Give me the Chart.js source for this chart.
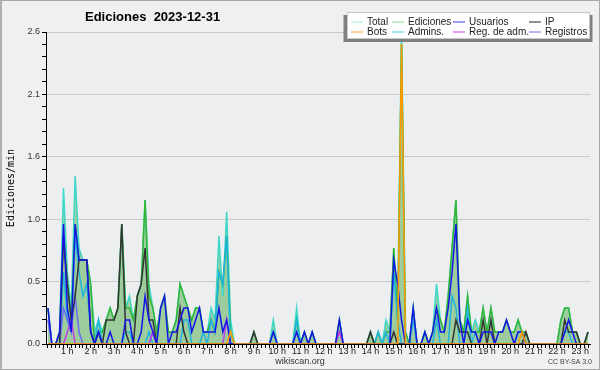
<!DOCTYPE html>
<html><head><meta charset="utf-8">
<script src="https://cdn.jsdelivr.net/npm/chart.js@4.4.0/dist/chart.umd.min.js"></script>
<style>html,body{margin:0;padding:0;background:#f0f0f0;}canvas{display:block;}</style>
</head><body>
<canvas id="c" width="600" height="370"></canvas>
<script>
// 10-minute bins (140 points), values in edits per minute
const hourLabels = ['1 h','2 h','3 h','4 h','5 h','6 h','7 h','8 h','9 h','10 h','11 h','12 h','13 h','14 h','15 h','16 h','17 h','18 h','19 h','20 h','21 h','22 h','23 h'];
const yTickLabels = ['0.0','0.5','1.0','1.6','2.1','2.6'];
const seriesNames = ['Total','Ediciones','Usuarios','IP','Bots','Admins.','Reg. de adm.','Registros'];

const total = [
 0.3,0,0,0.1,1.3,0.6,  0.3,1.4,0.8,0.7,0.7,0.5,  0.1,0.2,0.1,0.2,0.3,0.2,  0.3,1.0,0.3,0.4,0.2,0.4,
 0.5,1.2,0.5,0.3,0.1,0.3,  0.4,0.1,0.1,0.2,0.5,0.4,  0.3,0.2,0.3,0.3,0.1,0.1,  0.3,0.2,0.9,0.4,1.1,0.2,
 0,0,0,0,0,0.1,  0,0,0,0,0.2,0,  0,0,0,0,0.3,0,  0.1,0,0.1,0,0,0,
 0,0,0,0.2,0,0,  0,0,0,0,0,0.1,  0,0.1,0,0.2,0.1,0.8,  0.2,2.6,0.1,0,0.3,0,
 0,0.1,0,0.1,0.5,0.2,  0.1,0.4,0.8,1.2,0.2,0.1,  0.4,0.1,0.2,0.1,0.3,0.1,  0.3,0.1,0.1,0.1,0.2,0.1,
 0.1,0.2,0.1,0.1,0,0,  0,0,0,0,0,0,  0.2,0.3,0.3,0.1,0.1,0,  0,0.1
];
const ediciones = [
 0.3,0,0,0.1,0.9,0.5,  0.2,1.0,0.7,0.7,0.7,0.5,  0,0.1,0.1,0.2,0.3,0.2,  0.3,1.0,0.3,0.3,0.2,0.4,
 0.5,1.2,0.4,0.3,0.1,0.3,  0.4,0.1,0.1,0.2,0.5,0.4,  0.3,0.2,0.3,0.3,0.1,0.1,  0.2,0.1,0.6,0.5,0.9,0.1,
 0,0,0,0,0,0.1,  0,0,0,0,0.1,0,  0,0,0,0,0.2,0,  0.1,0,0.1,0,0,0,
 0,0,0,0.2,0,0,  0,0,0,0,0,0.1,  0,0.1,0,0.1,0.1,0.8,  0.2,2.5,0.1,0,0.3,0,
 0,0.1,0,0.1,0.3,0.2,  0.1,0.4,0.8,1.2,0.2,0.1,  0.4,0.1,0.1,0.1,0.3,0.1,  0.3,0.1,0.1,0.1,0.2,0.1,
 0.1,0.2,0.1,0.1,0,0,  0,0,0,0,0,0,  0.2,0.3,0.3,0.1,0.1,0,  0,0.1
];
const usuarios = [
 0.3,0,0,0.1,1.0,0.3,  0.1,1.0,0.7,0.7,0.7,0.1,  0,0.1,0,0,0.1,0,  0,0,0.2,0.2,0,0,
 0.1,0.4,0.2,0.1,0,0.3,  0.4,0,0.1,0.1,0.2,0.3,  0.3,0.1,0.2,0.3,0.1,0.1,  0.1,0.1,0.3,0.1,0.2,0,
 0,0,0,0,0,0,  0,0,0,0,0.1,0,  0,0,0,0,0.1,0,  0.1,0,0.1,0,0,0,
 0,0,0,0.2,0,0,  0,0,0,0,0,0,  0,0,0,0,0,0.7,  0.5,0.2,0,0,0.3,0,
 0,0.1,0,0.1,0.3,0.1,  0.1,0.3,0.6,1.0,0.2,0,  0.2,0.1,0.1,0,0.1,0.1,  0.1,0,0.1,0.1,0.2,0.1,
 0,0.1,0.1,0,0,0,  0,0,0,0,0,0,  0,0.1,0.2,0.1,0,0,  0,0
];
const ip = [
 0,0,0,0,0.9,0.5,  0.2,0.4,0.7,0.7,0.7,0.1,  0,0.1,0,0.2,0.2,0.2,  0.3,1.0,0.1,0,0,0.4,
 0.5,0.8,0.2,0.2,0,0,  0,0,0,0,0.3,0.1,  0,0,0,0,0,0,  0,0,0,0,0,0,
 0,0,0,0,0,0.1,  0,0,0,0,0,0,  0,0,0,0,0,0,  0,0,0,0,0,0,
 0,0,0,0,0,0,  0,0,0,0,0,0.1,  0,0,0,0,0,0.1,  0,0,0,0,0,0,
 0,0,0,0,0,0,  0,0,0,0.2,0.1,0.1,  0.1,0,0,0,0.2,0,  0.2,0,0,0,0,0,
 0,0,0,0.1,0,0,  0,0,0,0,0,0,  0,0.2,0.1,0.1,0.1,0,  0,0.1
];
const bots = [
 0,0,0,0,0,0,  0,0,0,0,0,0,  0,0,0,0,0,0,  0,0,0,0,0,0,
 0,0,0,0,0,0,  0,0,0,0,0,0,  0,0,0,0,0,0,  0,0,0,0,0,0.1,
 0,0,0,0,0,0,  0,0,0,0,0,0,  0,0,0,0,0,0,  0,0,0,0,0,0,
 0,0,0,0,0,0,  0,0,0,0,0,0,  0,0,0,0,0,0,  0,2.5,0,0,0,0,
 0,0,0,0,0,0,  0,0,0,0,0,0,  0,0,0,0,0,0,  0,0,0,0,0,0,
 0,0,0.1,0,0,0,  0,0,0,0,0,0,  0,0,0,0,0,0,  0,0
];
const admins = [
 0,0,0,0,0.6,0.2,  0.1,0.9,0.6,0.4,0.5,0.1,  0,0.2,0,0,0,0,  0,0,0.1,0.1,0,0,
 0,0,0.1,0,0,0,  0,0,0,0,0,0.2,  0.2,0,0,0,0.1,0,  0.2,0.1,0.6,0.5,0.9,0,
 0,0,0,0,0,0,  0,0,0,0,0.1,0,  0,0,0,0,0.2,0,  0,0,0,0,0,0,
 0,0,0,0,0,0,  0,0,0,0,0,0,  0,0.1,0,0.1,0,0.6,  0.2,0,0,0,0.2,0,
 0,0,0,0,0.2,0,  0,0,0.4,0.3,0,0,  0.3,0,0.1,0,0,0,  0,0,0,0,0,0,
 0,0.1,0.1,0,0,0,  0,0,0,0,0,0,  0,0.1,0.1,0,0,0,  0,0
];
const regAdm = [
 0,0,0,0,0,0.1,  0.2,0,0,0,0,0,  0,0,0,0,0,0,  0,0,0,0,0,0,
 0,0,0,0.1,0,0,  0,0,0,0,0,0,  0,0,0,0,0,0,  0,0,0,0,0.2,0,
 0,0,0,0,0,0,  0,0,0,0,0,0,  0,0,0,0,0,0,  0,0,0,0,0,0,
 0,0,0,0.1,0,0,  0,0,0,0,0,0,  0,0,0,0,0,0,  0,0,0,0,0,0,
 0,0,0,0,0,0,  0,0,0,0,0,0,  0,0,0,0,0,0,  0,0,0,0,0,0,
 0,0,0,0,0,0,  0,0,0,0,0,0,  0,0,0,0,0,0,  0,0
];
const registros = [
 0.2,0,0,0,0.3,0.2,  0.1,0.4,0.1,0,0,0,  0,0,0,0,0,0,  0,0,0,0,0,0,
 0,0,0,0.1,0,0,  0,0,0,0,0,0,  0,0,0,0,0,0,  0,0,0,0,0,0,
 0,0,0,0,0,0,  0,0,0,0,0,0,  0,0,0,0,0,0,  0,0,0,0,0,0,
 0,0,0,0,0,0,  0,0,0,0,0,0,  0,0,0,0,0,0,  0,0,0,0,0,0,
 0,0,0,0,0,0,  0,0,0,0,0,0,  0,0,0,0,0,0,  0,0,0,0,0,0,
 0,0,0,0,0,0,  0,0,0,0,0,0,  0,0,0,0,0,0,  0,0
];

const lineColors = ['#3ed8c8','#33b533','#1414e6','#333333','#ff9a00','#1eb4e0','#c43ce6','#6a6af5'];
const legendColors = ['#a8e6e0','#8fd68f','#3c3ce6','#222222','#f5a040','#46c8e6','#cc44dd','#7070ee'];
const allSeries = [total, ediciones, usuarios, ip, bots, admins, regAdm, registros];
const drawOrder = [8, 7, 2, 3, 1, 6, 4, 5];

const FONT = 'Liberation Sans';
Chart.defaults.font.family = FONT;

const datasets = allSeries.map((s, k) => ({
  label: seriesNames[k],
  data: s.map((v, i) => ({x: i, y: v})),
  borderColor: lineColors[k],
  backgroundColor: k === 0 ? '#9dcc9d' : lineColors[k],
  fill: k === 0 ? 'origin' : false,
  borderWidth: 1.5,
  pointRadius: 0,
  tension: 0,
  order: drawOrder[k]
}));

const decor = {
  id: 'decor',
  beforeDraw(chart) {
    const c = chart.ctx, a = chart.chartArea;
    c.save();
    c.fillStyle = '#f0f0f0';
    c.fillRect(0, 0, 600, 370);
    c.fillStyle = '#eceef0';
    c.fillRect(a.left, a.top, a.right - a.left, a.bottom - a.top);
    c.strokeStyle = '#a8a8a8';
    c.lineWidth = 1;
    c.strokeRect(0.5, 0.5, 599, 369);
    c.fillStyle = '#b0b0b0';
    c.fillRect(0, 0, 2, 370);
    c.restore();
  },
  afterDraw(chart) {
    const c = chart.ctx;
    c.save();
    // title
    c.fillStyle = '#000';
    c.font = 'bold 13px ' + FONT;
    c.textBaseline = 'middle';
    c.textAlign = 'left';
    c.fillText('Ediciones  2023-12-31', 85, 17);
    // y title
    c.save();
    c.translate(11, 188);
    c.rotate(-Math.PI / 2);
    c.font = '10px "DejaVu Sans Mono"';
    c.textAlign = 'center';
    c.fillText('Ediciones/min', 0, 0);
    c.restore();
    // legend
    c.fillStyle = '#808080';
    c.fillRect(343.5, 15, 249, 27);
    c.fillStyle = '#ffffff';
    c.fillRect(347, 12, 243, 27);
    c.strokeStyle = '#c8c8c8';
    c.strokeRect(347.5, 12.5, 242, 26);
    const colX = [351, 392, 453, 529];
    const rowY = [21.5, 31.5];
    c.font = '10px ' + FONT;
    c.textAlign = 'left';
    seriesNames.forEach((n, k) => {
      const col = k % 4, row = Math.floor(k / 4);
      c.strokeStyle = legendColors[k];
      c.lineWidth = 1;
      c.beginPath();
      c.moveTo(colX[col], rowY[row] + 0.5);
      c.lineTo(colX[col] + 12, rowY[row] + 0.5);
      c.stroke();
      c.fillStyle = '#222';
      c.fillText(n, colX[col] + 16, rowY[row] + 1);
    });
    // footer
    c.fillStyle = '#333';
    c.font = '9px ' + FONT;
    c.textAlign = 'center';
    c.fillText('wikiscan.org', 300, 362);
    c.font = '7px ' + FONT;
    c.textAlign = 'right';
    c.fillStyle = '#444';
    c.fillText('CC BY-SA 3.0', 592, 362);
    c.restore();
  }
};

new Chart(document.getElementById('c'), {
  type: 'line',
  data: { datasets },
  options: {
    responsive: false,
    animation: false,
    devicePixelRatio: 1,
    layout: { padding: { top: 32, right: 10, left: 0, bottom: 0 } },
    plugins: {
      legend: { display: false },
      title: { display: false },
      tooltip: { enabled: false },
      filler: { propagate: false }
    },
    scales: {
      x: {
        type: 'linear', min: -0.5, max: 139.5,
        afterBuildTicks: s => { s.ticks = total.map((_, k) => ({ value: k })); },
        afterFit: s => { s.height = 26; },
        grid: { drawOnChartArea: false, drawTicks: true, tickLength: 4, tickColor: '#000', color: '#000' },
        border: { display: true, color: '#000', width: 1 },
        ticks: {
          autoSkip: false, maxRotation: 0, minRotation: 0, padding: -2,
          color: '#222', font: { size: 9, family: FONT },
          callback: v => ((v + 1) % 6 === 0 ? hourLabels[(v + 1) / 6 - 1] : '')
        }
      },
      y: {
        type: 'linear', min: 0, max: 2.6,
        afterBuildTicks: s => { s.ticks = Array.from({ length: 26 }, (_, k) => ({ value: k * 0.104 })); },
        afterFit: s => { s.width = 46; },
        grid: {
          color: ctx => (ctx.index % 5 === 0 ? '#c9c9c9' : 'rgba(0,0,0,0)'),
          tickColor: '#000', tickLength: 4, drawTicks: true
        },
        border: { display: true, color: '#000', width: 1 },
        ticks: {
          autoSkip: false, padding: 2, color: '#333', font: { size: 9, family: FONT },
          callback: (v, i) => (i % 5 === 0 ? yTickLabels[i / 5] : '')
        }
      }
    }
  },
  plugins: [decor]
});
</script>
</body></html>
